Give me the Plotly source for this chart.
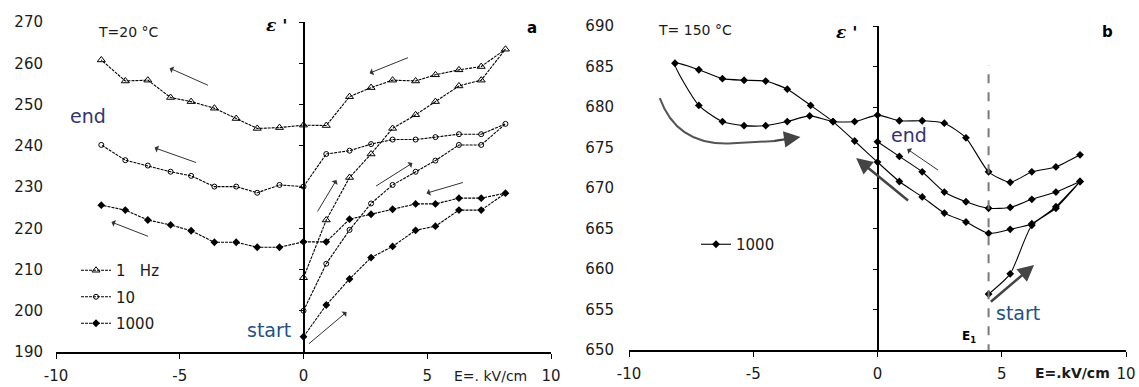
import plotly.graph_objects as go

# ---------------- data ----------------
# Panel a (T = 20 C): field path 0 -> +8 -> -8 kV/cm
E_a = [0, 0.92, 1.86, 2.73, 3.6, 4.53, 5.33, 6.28, 7.18, 8.16,
       7.18, 6.28, 5.33, 4.53, 3.6, 2.73, 1.86, 0.92, 0,
       -0.97, -1.87, -2.72, -3.6, -4.54, -5.37, -6.29, -7.2, -8.17]
eps_1Hz = [208, 222, 232.3, 238, 244.2, 247.5, 250.7, 254.5, 255.9, 263.4,
           259.2, 258.4, 257.2, 255.7, 255.9, 254.1, 251.9, 244.9, 245.0,
           244.4, 244.2, 246.6, 249.1, 250.7, 251.7, 255.9, 255.7, 260.8]
eps_10Hz = [200, 211.4, 219.6, 226, 230.5, 233.7, 236.4, 240.2, 240.2, 245.3,
            242.8, 242.8, 242.1, 241.5, 241.5, 240.4, 238.8, 238, 230.1,
            230.5, 228.6, 230.1, 230.1, 232.7, 233.7, 235.2, 236.5, 240.2]
eps_1000Hz = [193.7, 201.4, 207.7, 212.9, 215.6, 219.5, 220.5, 224.4, 224.4, 228.5,
              227.3, 227.3, 225.9, 225.9, 224.6, 223.4, 222.2, 216.7, 216.7,
              215.4, 215.4, 216.6, 216.6, 219.4, 220.8, 222, 224.4, 225.6]
names_a = ["1\u00a0\u00a0\u00a0Hz", "10", "1000"]

# Panel b (T = 150 C), 1000 Hz, start at E1; None = break between branches
E_b = [4.47, 5.34, 6.21, 7.18, 8.15,
       7.18, 6.21, 5.34, 4.47, 3.56, 2.69, 1.8, 0.88, 0, -0.92, -1.79, -2.69,
       -3.63, -4.5, -5.37, -6.24, -7.19, -8.15,
       -7.19, -6.24, -5.37, -4.5, -3.63, -2.73, -1.79, -0.92, 0, 0.88, 1.8,
       2.69, 3.56, 4.47, 5.34, 6.21, 7.18, 8.15,
       None,
       8.15, 7.18, 6.21, 5.34, 4.47, 3.56, 2.69, 1.8, 0.88, 0]
eps_b = [656.9, 659.4, 665.4, 667.5, 670.8,
         667.7, 665.6, 664.9, 664.4, 665.8, 666.9, 668.9, 670.8, 673.2, 675.8, 678.2, 680.2,
         682.2, 683.2, 683.3, 683.5, 684.6, 685.4,
         680.2, 678.2, 677.7, 677.7, 678.2, 678.9, 678.2, 678.2, 679.0, 678.3, 678.3,
         678.0, 676.2, 672.0, 670.7, 672.0, 672.6, 674.1,
         None,
         670.8, 669.5, 668.6, 667.6, 667.5, 668.3, 669.5, 672.0, 673.9, 675.7]
E1 = 4.47

xticks = [-10, -5, 0, 5, 10]
xticktext = ["-10", "-5", "0", "5", "10"]
yticks_a = [190, 200, 210, 220, 230, 240, 250, 260, 270]
yticks_b = [650, 655, 660, 665, 670, 675, 680, 685, 690]

# ---------------- layout geometry ----------------
W, H = 1139, 387
xa_dom = [56 / W, 551 / W]
ya_dom = [1 - 352 / H, 1 - 22 / H]
xb_dom = [629 / W, 1126 / W]
yb_dom = [1 - 350 / H, 1 - 26 / H]

TICKFONT = dict(family="DejaVu Sans", size=15, color="#1a1a1a")
LBLFONT = dict(family="DejaVu Sans", size=19, color="#35326e")

fig = go.Figure()

line_a = dict(color="black", width=1.1, dash="3px,1px")
fig.add_trace(go.Scatter(x=E_a, y=eps_1Hz, name=names_a[0], mode="lines+markers",
                         line=line_a, legendgroup="g1",
                         marker=dict(symbol="triangle-up-open", size=7, color="black",
                                     line=dict(width=1, color="black")),
                         xaxis="x", yaxis="y", legend="legend"))
fig.add_trace(go.Scatter(x=E_a, y=eps_10Hz, name=names_a[1], mode="lines+markers",
                         line=line_a, legendgroup="g2",
                         marker=dict(symbol="circle-open", size=5, color="black",
                                     line=dict(width=1, color="black")),
                         xaxis="x", yaxis="y", legend="legend"))
fig.add_trace(go.Scatter(x=E_a, y=eps_1000Hz, name=names_a[2], mode="lines+markers",
                         line=line_a, legendgroup="g3",
                         marker=dict(symbol="diamond", size=6, color="black"),
                         xaxis="x", yaxis="y", legend="legend"))
fig.add_trace(go.Scatter(x=E_b, y=eps_b, name="1000", mode="lines+markers",
                         line=dict(color="black", width=1.1, shape="spline", smoothing=0.6),
                         marker=dict(symbol="diamond", size=6, color="black"),
                         xaxis="x2", yaxis="y2", legend="legend2"))
# empty traces so the axis lines at E = 0 are drawn
fig.add_trace(go.Scatter(x=[], y=[], xaxis="x", yaxis="y3", showlegend=False))
fig.add_trace(go.Scatter(x=[], y=[], xaxis="x2", yaxis="y4", showlegend=False))

common_x = dict(range=[-10, 10], tickvals=xticks, ticktext=xticktext, ticks="outside",
                ticklen=5, tickcolor="black", showline=True, linecolor="black",
                linewidth=1.5, showgrid=False, zeroline=False, tickfont=TICKFONT,
                ticklabelstandoff=4, automargin=False)
fig.update_layout(
    width=W, height=H, margin=dict(l=0, r=0, t=0, b=0, pad=0, autoexpand=False),
    paper_bgcolor="white", plot_bgcolor="white",
    xaxis=dict(domain=xa_dom, anchor="y", **common_x),
    xaxis2=dict(domain=xb_dom, anchor="y2", **common_x),
    yaxis=dict(domain=ya_dom, anchor="x", range=[190, 270], tickvals=yticks_a,
               showline=False, ticks="", showgrid=False, zeroline=False,
               tickfont=TICKFONT, ticklabelstandoff=12, automargin=False),
    yaxis2=dict(domain=yb_dom, anchor="x2", range=[650, 690], tickvals=yticks_b,
                showline=False, ticks="", showgrid=False, zeroline=False,
                tickfont=TICKFONT, ticklabelstandoff=14, automargin=False),
    yaxis3=dict(overlaying="y", anchor="free", position=(xa_dom[0] + xa_dom[1]) / 2,
                range=[190, 270], tickvals=yticks_a, showticklabels=False,
                ticks="outside", ticklen=4, tickcolor="black", showline=True,
                linecolor="black", linewidth=1.5, showgrid=False, zeroline=False,
                automargin=False),
    yaxis4=dict(overlaying="y2", anchor="free", position=(xb_dom[0] + xb_dom[1]) / 2,
                range=[650, 690], tickvals=yticks_b, showticklabels=False,
                ticks="outside", ticklen=4, tickcolor="black", showline=True,
                linecolor="black", linewidth=1.5, showgrid=False, zeroline=False,
                automargin=False),
    legend=dict(x=76 / W, y=1 - 254 / H, xanchor="left", yanchor="top",
                font=dict(family="DejaVu Sans", size=15, color="#1a1a1a"),
                bgcolor="rgba(0,0,0,0)", tracegroupgap=4, itemwidth=30),
    legend2=dict(x=696 / W, y=1 - 228 / H, xanchor="left", yanchor="top",
                 font=dict(family="DejaVu Sans", size=15, color="#1a1a1a"),
                 bgcolor="rgba(0,0,0,0)", itemwidth=30),
    showlegend=True,
)

ann = []
def text(x, y, s, ref="1", font=None, xanchor="center"):
    xr = "x" if ref == "1" else "x2"
    yr = "y" if ref == "1" else "y2"
    ann.append(dict(x=x, y=y, xref=xr, yref=yr, text=s, showarrow=False,
                    xanchor=xanchor, yanchor="middle", font=font or TICKFONT))

def ptext(px, py, s, font):
    ann.append(dict(x=px / W, y=1 - py / H, xref="paper", yref="paper", text=s,
                    showarrow=False, xanchor="center", yanchor="middle", font=font))

def arrow(x0, y0, x1, y1, ref="1", color="#333", width=1, head=1, size=1.2):
    xr = "x" if ref == "1" else "x2"
    yr = "y" if ref == "1" else "y2"
    ann.append(dict(x=x1, y=y1, ax=x0, ay=y0, xref=xr, yref=yr, axref=xr, ayref=yr,
                    text="", showarrow=True, arrowhead=head, arrowsize=size,
                    arrowwidth=width, arrowcolor=color))

# panel a labels
text(-8.4, 267.6, "T=20 \u00b0C", font=dict(family="DejaVu Sans", size=14, color="#1a1a1a"), xanchor="left")
text(-1.1, 269.3, "<b><i>\u03b5 '</i></b>", font=dict(family="DejaVu Serif", size=17, color="black"))
text(9.25, 268.5, "<b>a</b>", font=dict(family="DejaVu Sans", size=15, color="black"))
text(-8.7, 247.2, "end", font=LBLFONT)
text(-1.4, 195.3, "start", font=dict(family="DejaVu Sans", size=19, color="#24508a"))
ptext(490, 376, "E=. kV/cm", dict(family="DejaVu Sans", size=14, color="#1a1a1a"))
# panel a arrows
arrow(-3.8, 254.5, -5.41, 258.8)
arrow(-4.28, 235.8, -6.02, 239.5)
arrow(-6.22, 217.9, -7.76, 221.5)
arrow(4.28, 261.5, 2.67, 257.6)
arrow(6.5, 231.2, 4.97, 228.5)
arrow(2.87, 230.0, 4.4, 235.8)
arrow(0.53, 223.7, 1.33, 231.7)
arrow(0.16, 191.7, 1.74, 199.7)

# panel b labels
text(-8.9, 689.5, "T= 150 \u00b0C", ref="2", font=dict(family="DejaVu Sans", size=14, color="#1a1a1a"), xanchor="left")
text(-1.25, 689.3, "<b><i>\u03b5 '</i></b>", ref="2", font=dict(family="DejaVu Serif", size=17, color="black"))
text(9.24, 689.3, "<b>b</b>", ref="2", font=dict(family="DejaVu Sans", size=15, color="black"))
text(1.25, 676.5, "end", ref="2", font=LBLFONT)
text(5.65, 654.6, "start", ref="2", font=dict(family="DejaVu Sans", size=19, color="#24508a"))
text(3.7, 651.6, "<b>E<sub>1</sub></b>", ref="2", font=dict(family="DejaVu Sans", size=12, color="black"))
ptext(1072, 373, "<b>E=.kV/cm</b>", dict(family="DejaVu Sans", size=14, color="#1a1a1a"))
# panel b arrows
arrow(2.49, 672.1, 1.2, 674.8, ref="2")
arrow(1.29, 668.3, -0.86, 673.7, ref="2", color="#444", width=2.5, head=2, size=1.3)
arrow(4.5, 655.8, 6.3, 660.5, ref="2", color="#444", width=2.5, head=2, size=1.3)
arrow(-4.2, 675.8, -3.1, 676.3, ref="2", color="#444", width=2.2, head=2, size=1.5)

fig.update_layout(annotations=ann)

fig.update_layout(shapes=[
    dict(type="line", xref="x2", yref="y2", x0=E1, x1=E1, y0=649.6, y1=685.2,
         line=dict(color="#7a7a7a", width=2, dash="dash")),
    dict(type="path", xref="x2", yref="y2",
         path="M -8.76,681.1 C -8.3,677.2 -7.4,675.4 -6.0,675.5 L -4.1,675.8",
         line=dict(color="#555", width=2)),
])

fig.write_html("out.html", config={"displayModeBar": False},
               post_script="document.body.style.margin='0px';document.body.style.overflow='hidden';")
